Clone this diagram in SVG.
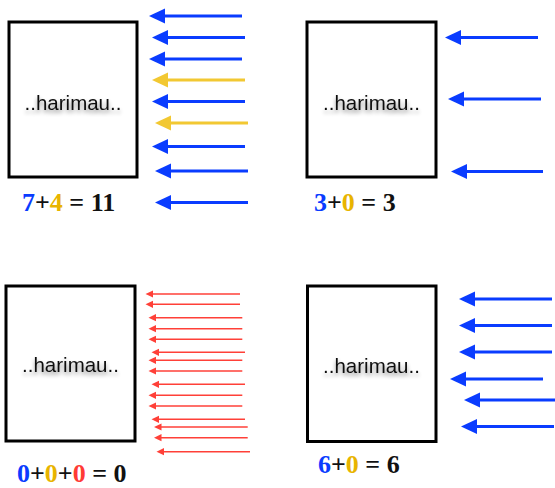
<svg xmlns="http://www.w3.org/2000/svg" width="555" height="488" viewBox="0 0 555 488">
<style>
.box{fill:#fff;stroke:#000;stroke-width:3}
.nm{font-family:"Liberation Sans",Arial,sans-serif;font-size:20.5px;fill:#111;text-anchor:middle}
.lb{font-family:"Liberation Serif","Times New Roman",serif;font-size:26px;font-weight:bold;fill:#111}
.b{fill:#0a3cff}.y{fill:#e8b400}.r{fill:#ff3b35}
.ab{stroke:#0a3cff;stroke-width:3;fill:none;marker-end:url(#hb)}
.ay{stroke:#f2c832;stroke-width:3;fill:none;marker-end:url(#hy)}
.ar{stroke:#ff4038;stroke-width:1.6;fill:none;marker-end:url(#hr)}
</style>
<defs>
<filter id="sh" x="-20%" y="-50%" width="140%" height="220%">
<feGaussianBlur in="SourceAlpha" stdDeviation="2"/>
<feOffset dx="0" dy="3" result="o"/>
<feComponentTransfer><feFuncA type="linear" slope="0.45"/></feComponentTransfer>
<feMerge><feMergeNode/><feMergeNode in="SourceGraphic"/></feMerge>
</filter>
<marker id="hb" viewBox="0 -8 18 16" markerWidth="18" markerHeight="16" refX="1" refY="0" orient="auto" markerUnits="userSpaceOnUse"><path d="M0,-7.5 L16,0 L0,7.5 z" fill="#0a3cff"/></marker>
<marker id="hy" viewBox="0 -8 18 16" markerWidth="18" markerHeight="16" refX="1" refY="0" orient="auto" markerUnits="userSpaceOnUse"><path d="M0,-7.5 L16,0 L0,7.5 z" fill="#f2c832"/></marker>
<marker id="hr" viewBox="0 -4 8 8" markerWidth="8" markerHeight="8" refX="1" refY="0" orient="auto" markerUnits="userSpaceOnUse"><path d="M0,-3.6 L7.5,0 L0,3.6 z" fill="#ff4038"/></marker>
</defs>
<g id="node1"><rect class="box" x="9" y="22" width="128" height="155"/><text class="nm" x="73" y="110" filter="url(#sh)">..harimau..</text></g>
<g id="node2"><rect class="box" x="307" y="22" width="129" height="155"/><text class="nm" x="371.5" y="110" filter="url(#sh)">..harimau..</text></g>
<g id="node3"><rect class="box" x="6" y="286" width="129" height="155"/><text class="nm" x="70.5" y="372" filter="url(#sh)">..harimau..</text></g>
<g id="node4"><rect class="box" x="307.5" y="286" width="128.5" height="155.5"/><text class="nm" x="371.5" y="373" filter="url(#sh)">..harimau..</text></g>
<g id="labels">
<text class="lb" x="22" y="211"><tspan class="b">7</tspan>+<tspan class="y">4</tspan> = 11</text>
<text class="lb" x="314" y="211"><tspan class="b">3</tspan>+<tspan class="y">0</tspan> = 3</text>
<text class="lb" x="17" y="482"><tspan class="b">0</tspan>+<tspan class="y">0</tspan>+<tspan class="r">0</tspan> = 0</text>
<text class="lb" x="318" y="473"><tspan class="b">6</tspan>+<tspan class="y">0</tspan> = 6</text>
</g>
<g id="connectors">
<path class="ab" d="M242,16 H164"/>
<path class="ab" d="M245,37.5 H167"/>
<path class="ab" d="M242,59 H164"/>
<path class="ay" d="M245,80 H167"/>
<path class="ab" d="M245,101.5 H167"/>
<path class="ay" d="M248,123 H170"/>
<path class="ab" d="M245,146.5 H167"/>
<path class="ab" d="M248,171 H170"/>
<path class="ab" d="M248,202.5 H170"/>
<path class="ab" d="M538,37.5 H460"/>
<path class="ab" d="M541,99 H463"/>
<path class="ab" d="M543,171.5 H466"/>
<path class="ab" d="M552,299 H474"/>
<path class="ab" d="M552,325.5 H474"/>
<path class="ab" d="M552,352 H474"/>
<path class="ab" d="M543,379 H465"/>
<path class="ab" d="M555,400 H479"/>
<path class="ab" d="M554,426.5 H476"/>
<path class="ar" d="M240,294 H152"/>
<path class="ar" d="M240,304.3 H152"/>
<path class="ar" d="M242.3,317.7 H155"/>
<path class="ar" d="M242.3,328.7 H155"/>
<path class="ar" d="M242.3,339.3 H155"/>
<path class="ar" d="M245,352.3 H158"/>
<path class="ar" d="M242.3,360.3 H155"/>
<path class="ar" d="M242.3,371 H155"/>
<path class="ar" d="M245,384.3 H158"/>
<path class="ar" d="M242.3,395.3 H155"/>
<path class="ar" d="M242.3,406 H155"/>
<path class="ar" d="M245,419.3 H158"/>
<path class="ar" d="M247.7,427 H160.5"/>
<path class="ar" d="M247.7,437.7 H160.5"/>
<path class="ar" d="M250,451.7 H163"/>
</g>
</svg>
